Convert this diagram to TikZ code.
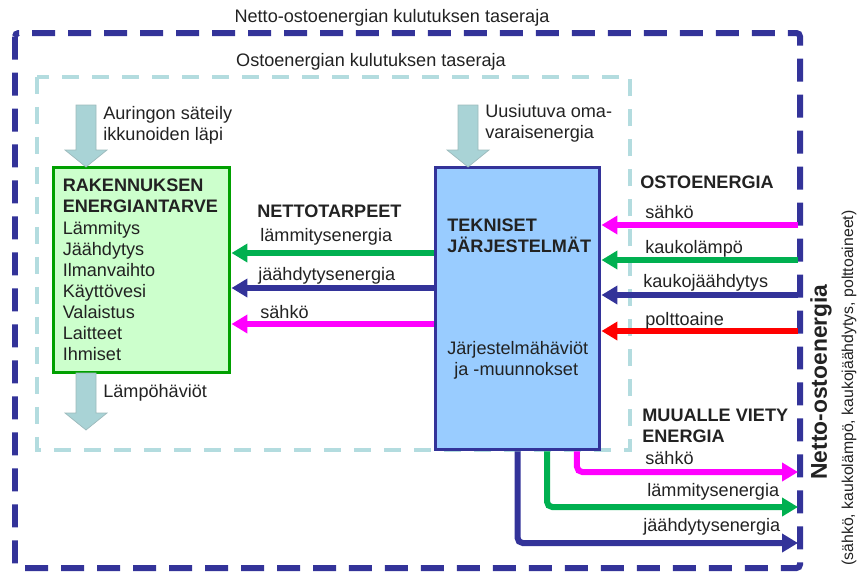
\documentclass[tikz,border=0pt]{standalone}
\usepackage{fontspec}
\setmainfont{Liberation Sans}
\usetikzlibrary{arrows.meta}
\definecolor{navy}{HTML}{333399}
\definecolor{elec}{HTML}{FF00FF}
\definecolor{heat}{HTML}{00B050}
\definecolor{fuel}{HTML}{FF0000}
\definecolor{lightbound}{HTML}{B3DCDF}
\definecolor{solar}{HTML}{A9D3D6}
\definecolor{boxgreen}{HTML}{CCFFCC}
\definecolor{edgegreen}{HTML}{00A000}
\definecolor{boxblue}{HTML}{99CCFF}
\definecolor{ink}{HTML}{222222}
% fat downward arrow: x, top, tip
\newcommand{\fatarrow}[3]{%
  \filldraw[fat] (#1-10,#2) -- (#1+10,#2) -- (#1+10,#3-17) -- (#1+21,#3-17)
    -- (#1,#3) -- (#1-21,#3-17) -- (#1-10,#3-17) -- cycle;}
\begin{document}
\begin{tikzpicture}[x=0.02cm,y=-0.02cm,font=\fontsize{10.3}{12}\selectfont,text=ink]
	\tikzstyle{flow} = [line width=0.12cm,-{Triangle[length=0.32cm,width=0.36cm]}]
	\tikzstyle{label} = [anchor=west,inner sep=0pt]
	\tikzstyle{heading} = [label,font=\fontsize{10.3}{12}\selectfont\bfseries]
	\tikzstyle{fat} = [fill=solar,draw=solar!70!gray,line width=0.4pt]
	\tikzstyle{netbound} = [navy,line width=0.12cm,dash pattern=on 0.46cm off 0.26cm,rounded corners=2pt]
	\tikzstyle{buybound} = [lightbound,line width=0.08cm,dash pattern=on 0.34cm off 0.26cm]
	\tikzstyle{demand} = [draw=edgegreen,line width=0.06cm,fill=boxgreen,minimum width=3.54cm,minimum height=4.12cm,align=left,text width=3.15cm]
	\tikzstyle{system} = [draw=navy,line width=0.06cm,fill=boxblue,minimum width=3.3cm,minimum height=5.66cm]
	\useasboundingbox (0,0) rectangle (858,572);

	% boundaries
	\draw[netbound] (15,33) rectangle (800,568);
	\draw[buybound] (37,77) rectangle (630,450);
	\node (nettitle) at (392,18) {Netto-ostoenergian kulutuksen taseraja};
	\node (buytitle) at (371,62) {Ostoenergian kulutuksen taseraja};

	% boxes
	\node (demand) [demand] at (141.5,270) {\textbf{RAKENNUKSEN}\\\textbf{ENERGIANTARVE}\\Lämmitys\\Jäähdytys\\Ilmanvaihto\\Käyttövesi\\Valaistus\\Laitteet\\Ihmiset};
	\node (tech) [system] at (517.5,308.5) {};
	\node (techname) [label,align=left] at (447,236) {\textbf{TEKNISET}\\\textbf{JÄRJESTELMÄT}};
	\node (losses) [label,align=left] at (447,360) {Järjestelmähäviöt\\\hspace{4pt}ja -muunnokset};

	% fat arrows
	\fatarrow{86}{105}{167}
	\fatarrow{468}{105}{167}
	\fatarrow{86}{373}{430}
	\node (sun) [label,align=left] at (103,125) {Auringon säteily\\ikkunoiden läpi};
	\node (own) [label,align=left] at (485,123) {Uusiutuva oma-\\varaisenergia};
	\node (heatloss) [label] at (103,393) {Lämpöhäviöt};

	% net needs
	\node (needs) [heading] at (257,211) {NETTOTARPEET};
	\coordinate (net1) at ([yshift=1.11cm]tech.west);
	\coordinate (net2) at ([yshift=0.41cm]tech.west);
	\coordinate (net3) at ([yshift=-0.31cm]tech.west);
	\draw[flow,heat] (net1) -- (net1 -| demand.east);
	\draw[flow,navy] (net2) -- (net2 -| demand.east);
	\draw[flow,elec] (net3) -- (net3 -| demand.east);
	\node (needheat) [label] at (260,237) {lämmitysenergia};
	\node (needcool) [label] at (258,276) {jäähdytysenergia};
	\node (needel) [label] at (260,312) {sähkö};

	% purchased energy
	\node (bought) [heading] at (640,182) {OSTOENERGIA};
	\coordinate (buy1) at (798,225);
	\coordinate (buy2) at (798,260);
	\coordinate (buy3) at (798,295);
	\coordinate (buy4) at (798,331);
	\draw[flow,elec] (buy1) -- (buy1 -| tech.east);
	\draw[flow,heat] (buy2) -- (buy2 -| tech.east);
	\draw[flow,navy] (buy3) -- (buy3 -| tech.east);
	\draw[flow,fuel] (buy4) -- (buy4 -| tech.east);
	\node (buyel) [label] at (645,212) {sähkö};
	\node (buyheat) [label] at (645,249) {kaukolämpö};
	\node (buycool) [label] at (643,283) {kaukojäähdytys};
	\node (buyfuel) [label] at (645,321) {polttoaine};

	% exported energy
	\node (exported) [heading,align=left] at (642,426) {MUUALLE VIETY\\ENERGIA};
	\coordinate (exp1) at (798,472);
	\coordinate (exp2) at (798,507);
	\coordinate (exp3) at (798,543);
	\draw[flow,elec,rounded corners=3pt] ([xshift=1.19cm]tech.south) |- (exp1);
	\draw[flow,heat,rounded corners=3pt] ([xshift=0.59cm]tech.south) |- (exp2);
	\draw[flow,navy,rounded corners=3pt] (tech.south) |- (exp3);
	\node (expel) [label] at (645,458) {sähkö};
	\node (expheat) [label] at (647,492) {lämmitysenergia};
	\node (expcool) [label] at (643,527) {jäähdytysenergia};

	% side captions
	\node (netto) [rotate=90,font=\fontsize{13}{15}\selectfont\bfseries] at (821,382) {Netto-ostoenergia};
	\node (carriers) [rotate=90,font=\fontsize{9}{11}\selectfont] at (849,388) {(sähkö, kaukolämpö, kaukojäähdytys, polttoaineet)};
\end{tikzpicture}
\end{document}
